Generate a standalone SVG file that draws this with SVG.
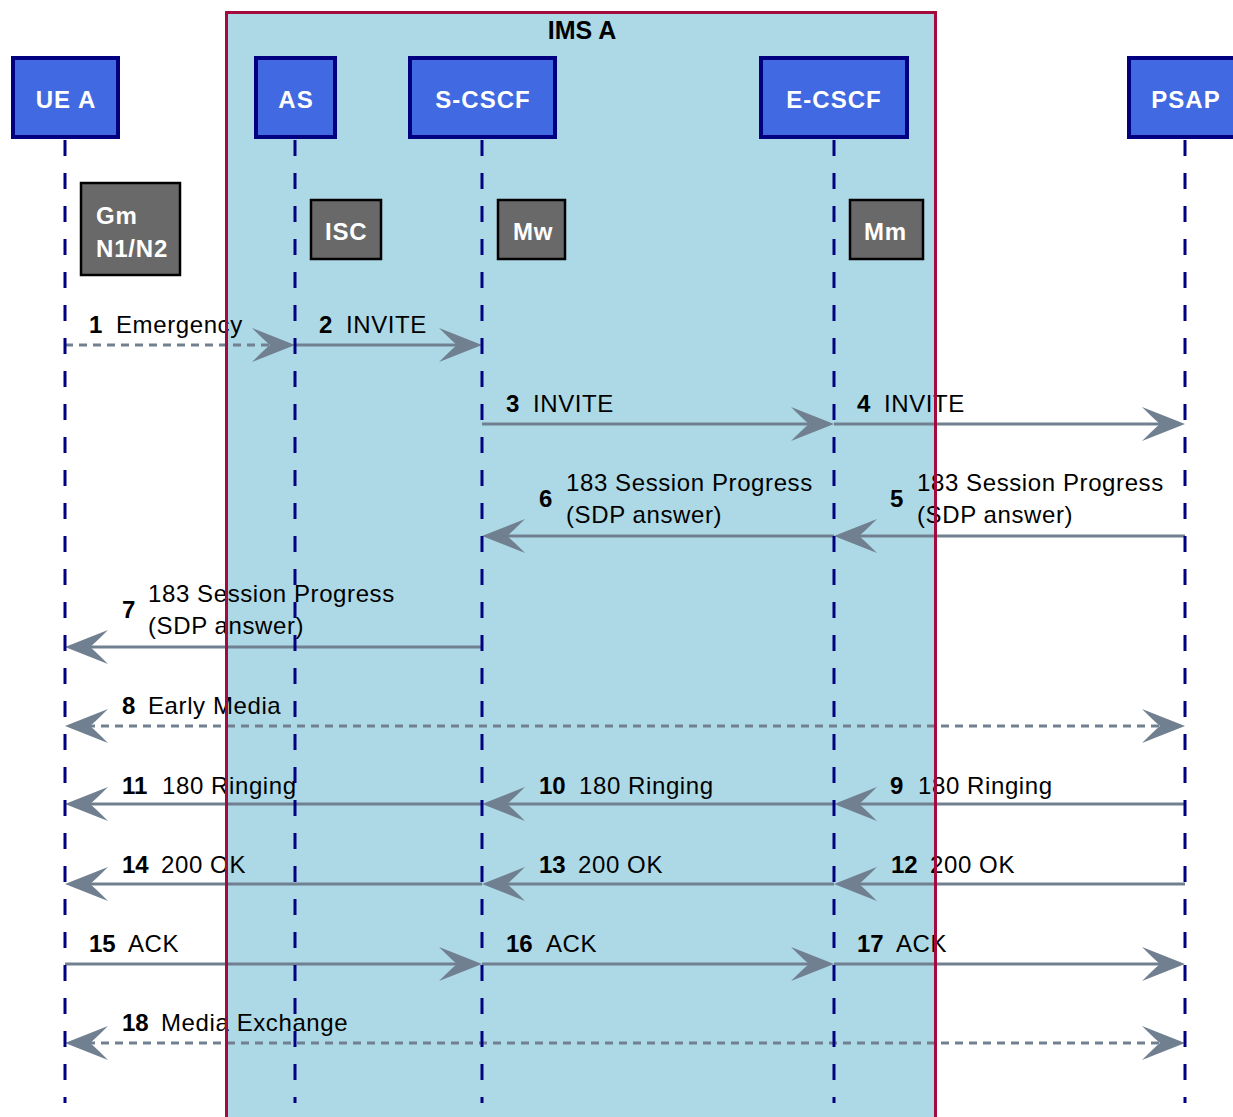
<svg xmlns="http://www.w3.org/2000/svg" width="1233" height="1117" viewBox="0 0 1233 1117">
<style>
.bg{fill:#ffffff}
.ims{fill:#add8e6;stroke:none}
.imsb{fill:none;stroke:#a50a3c;stroke-width:3}
.ttl{font-family:"Liberation Sans",Arial,sans-serif;font-weight:bold;font-size:25px;fill:#000;text-anchor:middle}
.node{fill:#4169e1;stroke:#000080;stroke-width:4}
.ntx{font-family:"Liberation Sans",Arial,sans-serif;font-weight:bold;font-size:24px;fill:#fff;text-anchor:middle;letter-spacing:1px}
.life{stroke:#000080;stroke-width:3;stroke-dasharray:16 17;fill:none}
.itf{fill:#696969;stroke:#000;stroke-width:2.5}
.itx{font-family:"Liberation Sans",Arial,sans-serif;font-weight:bold;font-size:24px;fill:#fff;letter-spacing:0.8px}
.msg{stroke:#708090;stroke-width:3;fill:none}
.dash{stroke-dasharray:8 6}
.num{font-family:"Liberation Sans",Arial,sans-serif;font-weight:bold;font-size:24px;fill:#000}
.lbl{font-family:"Liberation Sans",Arial,sans-serif;font-size:24px;fill:#000;letter-spacing:0.6px}
</style>
<defs>
<marker id="ah" viewBox="-45 -18 47 36" refX="-22" refY="0" markerWidth="47" markerHeight="36" markerUnits="userSpaceOnUse" orient="auto-start-reverse" overflow="visible">
<path d="M0,0 L-43,-17 Q-30,-4 -25,0 Q-30,4 -43,17 Z" fill="#708090" stroke="none"/>
</marker>
</defs>
<rect class="bg" x="0" y="0" width="1233" height="1117"/>
<g id="ims-a">
<rect class="ims" x="226" y="12" width="710" height="1110"/>
<text class="ttl" x="582" y="39">IMS A</text>
</g>
<g id="connectors">
<line class="msg dash" x1="65" y1="345" x2="273" y2="345" marker-end="url(#ah)"/>
<line class="msg" x1="295" y1="345" x2="460" y2="345" marker-end="url(#ah)"/>
<line class="msg" x1="482" y1="424" x2="812" y2="424" marker-end="url(#ah)"/>
<line class="msg" x1="834" y1="424" x2="1163" y2="424" marker-end="url(#ah)"/>
<line class="msg" x1="1185" y1="536" x2="856" y2="536" marker-end="url(#ah)"/>
<line class="msg" x1="834" y1="536" x2="504" y2="536" marker-end="url(#ah)"/>
<line class="msg" x1="482" y1="647" x2="87" y2="647" marker-end="url(#ah)"/>
<line class="msg dash" x1="87" y1="726" x2="1163" y2="726" marker-start="url(#ah)" marker-end="url(#ah)"/>
<line class="msg" x1="1185" y1="804" x2="856" y2="804" marker-end="url(#ah)"/>
<line class="msg" x1="834" y1="804" x2="504" y2="804" marker-end="url(#ah)"/>
<line class="msg" x1="482" y1="804" x2="87" y2="804" marker-end="url(#ah)"/>
<line class="msg" x1="1185" y1="884" x2="856" y2="884" marker-end="url(#ah)"/>
<line class="msg" x1="834" y1="884" x2="504" y2="884" marker-end="url(#ah)"/>
<line class="msg" x1="482" y1="884" x2="87" y2="884" marker-end="url(#ah)"/>
<line class="msg" x1="65" y1="964" x2="460" y2="964" marker-end="url(#ah)"/>
<line class="msg" x1="482" y1="964" x2="812" y2="964" marker-end="url(#ah)"/>
<line class="msg" x1="834" y1="964" x2="1163" y2="964" marker-end="url(#ah)"/>
<line class="msg dash" x1="87" y1="1043" x2="1163" y2="1043" marker-start="url(#ah)" marker-end="url(#ah)"/>
</g>
<g id="labels">
<text class="num" x="89" y="333">1</text><text class="lbl" x="116" y="333">Emergency</text>
<text class="num" x="319" y="333">2</text><text class="lbl" x="346" y="333">INVITE</text>
<text class="num" x="506" y="412">3</text><text class="lbl" x="533" y="412">INVITE</text>
<text class="num" x="857" y="412">4</text><text class="lbl" x="884" y="412">INVITE</text>
<text class="num" x="890" y="507">5</text><text class="lbl" x="917" y="491">183 Session Progress</text><text class="lbl" x="917" y="523">(SDP answer)</text>
<text class="num" x="539" y="507">6</text><text class="lbl" x="566" y="491">183 Session Progress</text><text class="lbl" x="566" y="523">(SDP answer)</text>
<text class="num" x="122" y="618">7</text><text class="lbl" x="148" y="602">183 Session Progress</text><text class="lbl" x="148" y="634">(SDP answer)</text>
<text class="num" x="122" y="714">8</text><text class="lbl" x="148" y="714">Early Media</text>
<text class="num" x="890" y="794">9</text><text class="lbl" x="918" y="794">180 Ringing</text>
<text class="num" x="539" y="794">10</text><text class="lbl" x="579" y="794">180 Ringing</text>
<text class="num" x="122" y="794">11</text><text class="lbl" x="162" y="794">180 Ringing</text>
<text class="num" x="891" y="873">12</text><text class="lbl" x="930" y="873">200 OK</text>
<text class="num" x="539" y="873">13</text><text class="lbl" x="578" y="873">200 OK</text>
<text class="num" x="122" y="873">14</text><text class="lbl" x="161" y="873">200 OK</text>
<text class="num" x="89" y="952">15</text><text class="lbl" x="128" y="952">ACK</text>
<text class="num" x="506" y="952">16</text><text class="lbl" x="546" y="952">ACK</text>
<text class="num" x="857" y="952">17</text><text class="lbl" x="896" y="952">ACK</text>
<text class="num" x="122" y="1031">18</text><text class="lbl" x="161" y="1031">Media Exchange</text>
</g>
<g id="ue-a">
<line class="life" x1="65" y1="140" x2="65" y2="1103"/>
<rect class="node" x="13" y="58" width="105" height="79"/>
<text class="ntx" x="66" y="108">UE A</text>
</g>
<g id="as">
<line class="life" x1="295" y1="140" x2="295" y2="1103"/>
<rect class="node" x="256" y="58" width="79" height="79"/>
<text class="ntx" x="296" y="108">AS</text>
</g>
<g id="s-cscf">
<line class="life" x1="482" y1="140" x2="482" y2="1103"/>
<rect class="node" x="410" y="58" width="145" height="79"/>
<text class="ntx" x="483" y="108">S-CSCF</text>
</g>
<g id="e-cscf">
<line class="life" x1="834" y1="140" x2="834" y2="1103"/>
<rect class="node" x="761" y="58" width="146" height="79"/>
<text class="ntx" x="834" y="108">E-CSCF</text>
</g>
<g id="psap">
<line class="life" x1="1185" y1="140" x2="1185" y2="1103"/>
<rect class="node" x="1129" y="58" width="112" height="79"/>
<text class="ntx" x="1186" y="108">PSAP</text>
</g>
<g id="gm-n1n2">
<rect class="itf" x="81" y="183" width="99" height="92"/>
<text class="itx" x="96" y="224">Gm</text>
<text class="itx" x="96" y="257">N1/N2</text>
</g>
<g id="isc">
<rect class="itf" x="311" y="200" width="70" height="59"/>
<text class="itx" x="325" y="240">ISC</text>
</g>
<g id="mw">
<rect class="itf" x="498" y="200" width="67" height="59"/>
<text class="itx" x="513" y="240">Mw</text>
</g>
<g id="mm">
<rect class="itf" x="850" y="200" width="73" height="59"/>
<text class="itx" x="864" y="240">Mm</text>
</g>
<g id="ims-a-border">
<rect class="imsb" x="226.5" y="12.5" width="709" height="1112"/>
</g>
</svg>
